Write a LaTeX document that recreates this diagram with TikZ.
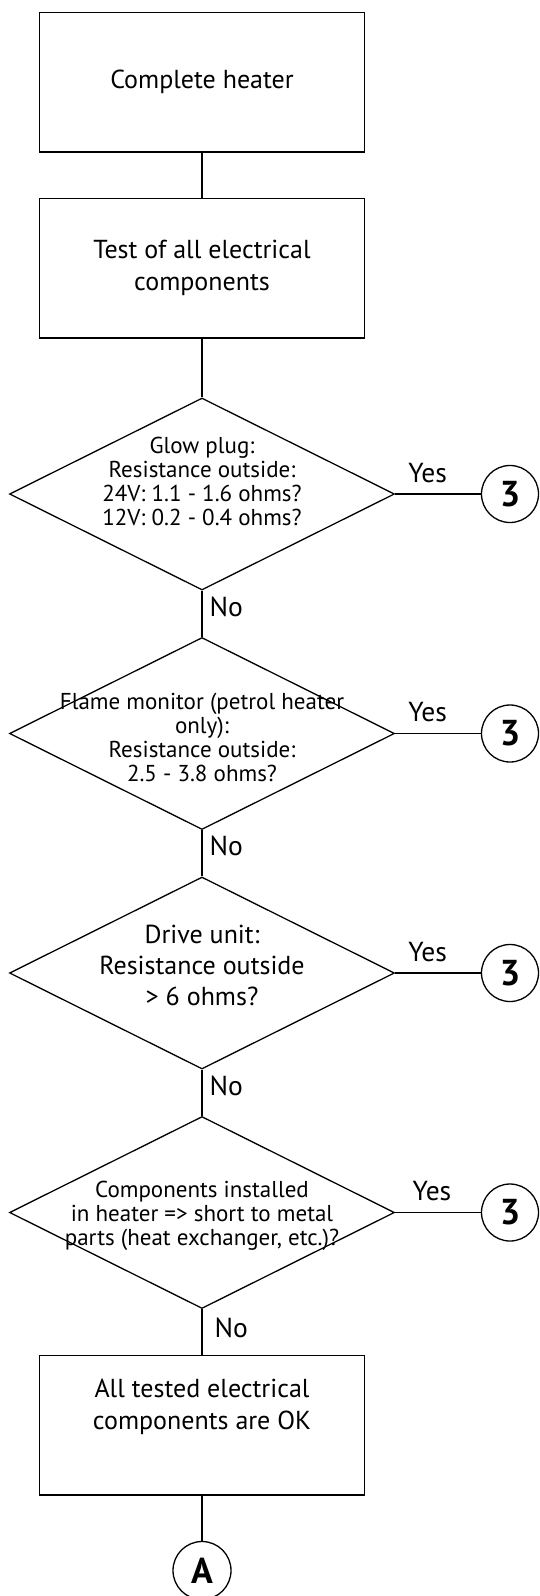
\documentclass[tikz,border=0pt]{standalone}
\usepackage{fontspec}
\setmainfont{PT Sans}
\usetikzlibrary{shapes.geometric}

\tikzset{
  process/.style={draw, line width=1.3pt, minimum width=324.5pt, minimum height=139.3pt,
    inner sep=0pt, align=center, font=\fontsize{26}{32}\selectfont},
  decision/.style={draw, diamond, line width=1.3pt, minimum width=385pt, minimum height=192pt,
    inner sep=0pt},
  dtext/.style={align=center, inner sep=0pt, font=\fontsize{23}{24}\selectfont},
  dtextlarge/.style={align=center, inner sep=0pt, font=\fontsize{26}{31}\selectfont},
  connector/.style={draw, circle, line width=1.3pt, minimum size=57pt, inner sep=0pt,
    font=\fontsize{36}{36}\selectfont\bfseries},
  flow/.style={line width=1.3pt},
  answer/.style={inner sep=0pt, font=\fontsize{27.5}{27.5}\selectfont}
}

\begin{document}
\begin{tikzpicture}[x=1pt, y=1pt]
  \useasboundingbox (0,0) rectangle (539,-1596);

  % Boxes
  \node[process] (heater) at (202,-82.3) {Complete heater};
  \node[process] (test) at (202,-268.3) {Test of all electrical\\components};
  \node[process] (ok) at (202,-1425.3) {};
  \node[dtextlarge, font=\fontsize{26}{32}\selectfont] (oktext) at (202,-1407) {All tested electrical\\components are OK};

  % Decisions
  \node[decision] (glow) at (202,-494) {};
  \node[dtext] (glowtext) at (202,-481) {Glow plug:\\Resistance outside:\\24V: 1.1 - 1.6 ohms?\\12V: 0.2 - 0.4 ohms?};
  \node[decision] (flame) at (202,-733.5) {};
  \node[dtext] (flametext) at (202,-737) {Flame monitor (petrol heater\\only):\\Resistance outside:\\2.5 - 3.8 ohms?};
  \node[decision] (drive) at (202,-973) {};
  \node[dtextlarge] (drivetext) at (202,-965) {Drive unit:\\Resistance outside\\> 6 ohms?};
  \node[decision] (short) at (202,-1212.5) {};
  \node[dtext] (shorttext) at (202,-1216) {Components installed\\in heater => short to metal\\parts (heat exchanger, etc.)?};

  % Connectors 3 and A
  \node[connector] (goto1) at (510,-494) {3};
  \node[connector] (goto2) at (510,-733.5) {3};
  \node[connector] (goto3) at (510,-973) {3};
  \node[connector] (goto4) at (510,-1212.5) {3};
  \node[connector, minimum size=58pt] (gotoA) at (202,-1570.5) {A};

  % Main line
  \draw[flow] (heater) -- (test);
  \draw[flow] (test) -- (glow);
  \draw[flow] (glow) -- node[answer, pos=0.35, right=7pt] {No} (flame);
  \draw[flow] (flame) -- node[answer, pos=0.35, right=7pt] {No} (drive);
  \draw[flow] (drive) -- node[answer, pos=0.35, right=7pt] {No} (short);
  \draw[flow] (short) -- node[answer, pos=0.4, right=12pt] {No} (ok);
  \draw[flow] (ok) -- (gotoA);

  % Yes branches
  \draw[flow] (glow) -- node[answer, pos=0.38, above=11pt] {Yes} (goto1);
  \draw[flow] (flame) -- node[answer, pos=0.38, above=11pt] {Yes} (goto2);
  \draw[flow] (drive) -- node[answer, pos=0.38, above=11pt] {Yes} (goto3);
  \draw[flow] (short) -- node[answer, pos=0.43, above=11pt] {Yes} (goto4);
\end{tikzpicture}
\end{document}
